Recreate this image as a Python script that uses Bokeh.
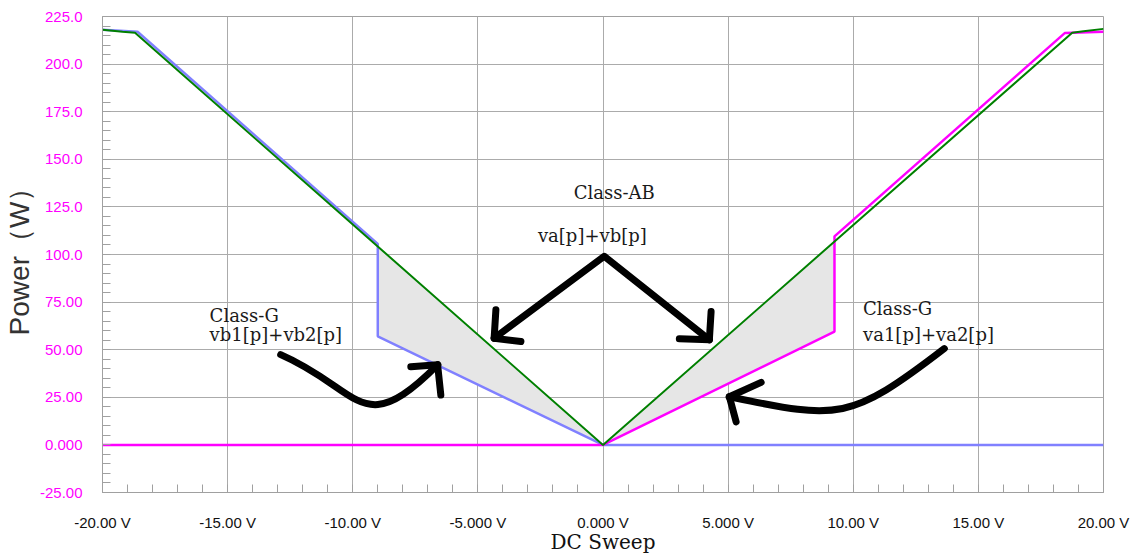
import numpy as np
from bokeh.plotting import figure
from bokeh.models import Range1d, FixedTicker
from bokeh.core.properties import value
from bokeh.embed import file_html
from bokeh.resources import INLINE

# ---- data (DC sweep in V, power in W) ----
# Class-AB: va[p]+vb[p]
ab_x = [-20.0, -19.2, -18.7, 0.0, 18.75, 19.2, 20.0]
ab_y = [218.0, 217.0, 216.5, 0.0, 216.5, 217.3, 218.5]
# Class-G negative side: vb1[p]+vb2[p]
gb_x = [-20.0, -18.6, -9.0, -9.0, 0.0, 20.0]
gb_y = [218.0, 217.0, 105.5, 57.0, 0.0, 0.0]
# Class-G positive side: va1[p]+va2[p]
ga_x = [-20.0, 0.0, 9.25, 9.25, 18.45, 20.0]
ga_y = [0.0, 0.0, 59.5, 109.5, 216.3, 217.0]

x_ticks = [-20, -15, -10, -5, 0, 5, 10, 15, 20]
x_tick_labels = ["-20.00 V", "-15.00 V", "-10.00 V", "-5.000 V", "0.000 V",
                 "5.000 V", "10.00 V", "15.00 V", "20.00 V"]
y_ticks = [-25, 0, 25, 50, 75, 100, 125, 150, 175, 200, 225]
y_tick_labels = ["-25.00", "0.000", "25.00", "50.00", "75.00", "100.0",
                 "125.0", "150.0", "175.0", "200.0", "225.0"]

# annotation texts (data coordinates)
notes_text = ["Class-AB", "va[p]+vb[p]", "Class-G", "vb1[p]+vb2[p]", "Class-G", "va1[p]+va2[p]"]
notes_x = [0.45, -2.6, -15.72, -15.72, 10.39, 10.39]
notes_y = [132.8, 110.0, 68.2, 57.8, 71.9, 57.8]
notes_align = ["center", "left", "left", "left", "left", "left"]

# hand-drawn arrows (data coordinates): straight strokes and arrow heads
strokes_x = [
    [-4.35, 0.05, 4.25],
    [-4.28, -4.35, -3.28],
    [3.05, 4.25, 4.32],
    [-7.68, -6.61, -6.48],
    [6.32, 5.05, 5.32],
]
strokes_y = [
    [56.0, 99.05, 55.2],
    [71.0, 56.0, 54.3],
    [55.7, 55.2, 70.1],
    [41.1, 42.15, 26.2],
    [32.82, 25.29, 12.12],
]
# curved arrow shafts (cubic bezier: start, control 1, control 2, end)
curve_x0 = [-12.88, 13.64]
curve_y0 = [47.42, 50.58]
curve_cx0 = [-9.644, 9.796]
curve_cy0 = [28.93, 11.64]
curve_cx1 = [-9.676, 9.364]
curve_cy1 = [1.63, 13.65]
curve_x1 = [-6.60, 5.04]
curve_y1 = [42.15, 25.29]

p = figure(width=1134, height=559, output_backend="svg", toolbar_location=None,
           x_range=Range1d(-20, 20), y_range=Range1d(-25, 225),
           min_border_left=102, min_border_right=31, min_border_top=16, min_border_bottom=67)
p.background_fill_color = "white"
p.border_fill_color = "white"
p.outline_line_color = "#a0a0a0"

p.xaxis.ticker = FixedTicker(ticks=x_ticks, minor_ticks=list(range(-20, 21, 1)))
p.yaxis.ticker = FixedTicker(ticks=y_ticks, minor_ticks=list(range(-25, 226, 5)))
p.xaxis.major_label_overrides = dict(zip(x_ticks, x_tick_labels))
p.yaxis.major_label_overrides = dict(zip(y_ticks, y_tick_labels))

for ax in (p.xaxis, p.yaxis):
    ax.axis_line_color = "#a0a0a0"
    ax.major_tick_line_color = None
    ax.minor_tick_line_color = "#a0a0a0"
    ax.minor_tick_in = 8
    ax.minor_tick_out = 0
    ax.major_label_text_font = "Liberation Sans"
    ax.major_label_text_font_size = "15px"
    ax.axis_label_text_font_style = "normal"

p.yaxis.major_label_text_color = "#ff00ff"
p.yaxis.major_label_standoff = 14
p.xaxis.major_label_text_color = "#111111"
p.xaxis.major_label_standoff = 15

p.xaxis.axis_label = "DC Sweep"
p.xaxis.axis_label_text_font = "DejaVu Serif"
p.xaxis.axis_label_text_font_size = "20px"
p.xaxis.axis_label_text_color = "#111111"
p.xaxis.axis_label_standoff = -4

p.yaxis.axis_label = "Power\uff08W\uff09"
p.yaxis.axis_label_text_font = "Liberation Sans"
p.yaxis.axis_label_text_font_size = "28px"
p.yaxis.axis_label_text_color = "#333333"
p.yaxis.axis_label_standoff = 2

p.grid.grid_line_color = "#ababab"
p.grid.grid_line_width = 1

# shaded gap between class-AB and class-G
gl_x = gb_x[2]
gr_x = ga_x[2]
p.patch([gl_x, 0.0, gl_x], [float(np.interp(gl_x, ab_x, ab_y)), 0.0, gb_y[3]],
        fill_color="#e6e6e6", line_color=None)
p.patch([gr_x, 0.0, gr_x], [float(np.interp(gr_x, ab_x, ab_y)), 0.0, ga_y[2]],
        fill_color="#e6e6e6", line_color=None)

p.line(gb_x, gb_y, line_color="#8080ff", line_width=2.5)
p.line(ga_x, ga_y, line_color="#ff00ff", line_width=2.5)
p.line(ab_x, ab_y, line_color="#008000", line_width=2)

p.multi_line(strokes_x, strokes_y, line_color="black", line_width=7,
             line_cap="round", line_join="round")
p.bezier(x0=curve_x0, y0=curve_y0, x1=curve_x1, y1=curve_y1,
         cx0=curve_cx0, cy0=curve_cy0, cx1=curve_cx1, cy1=curve_cy1,
         line_color="black", line_width=7, line_cap="round")

p.text(x=notes_x, y=notes_y, text=notes_text, text_align=notes_align,
       text_baseline="alphabetic", text_font=value("DejaVu Serif"),
       text_font_size="18px", text_color="#1a1a1a")

open("out.html", "w").write(file_html(p, INLINE))
